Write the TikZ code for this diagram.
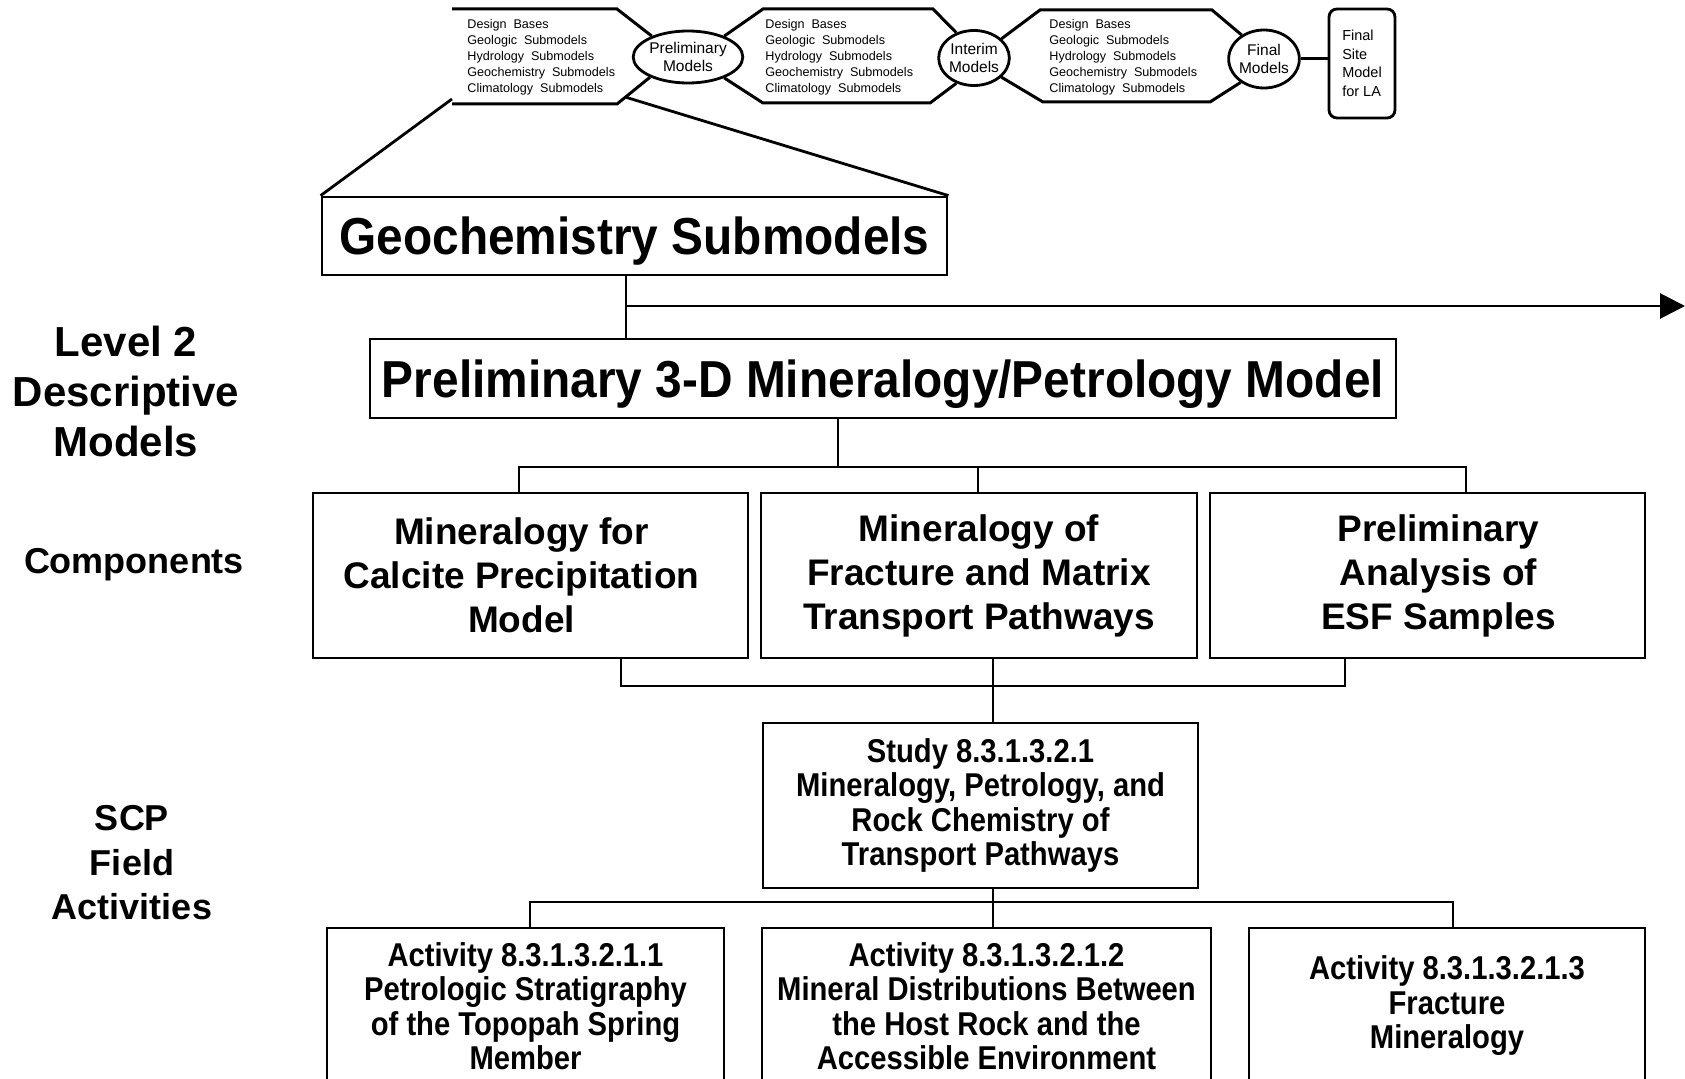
\documentclass[tikz,border=0pt]{standalone}
\usepackage{fontspec}
\setmainfont{Liberation Sans}
\newfontfamily\narrowsf[FakeStretch=0.885]{Liberation Sans}
\newfontfamily\tallsf[FakeStretch=0.92]{Liberation Sans}
\usetikzlibrary{arrows.meta,positioning,shapes.geometric}

\newcommand\bigbold{\tallsf\fontsize{52}{60}\selectfont\bfseries}
\newcommand\midbold{\fontsize{37}{44}\selectfont\bfseries}
\newcommand\narrowbold{\narrowsf\fontsize{33}{34.5}\selectfont\bfseries}
\newcommand\lvlbold{\fontsize{42}{50}\selectfont\bfseries}
\newcommand\sidebold{\fontsize{36}{44.5}\selectfont\bfseries}

\begin{document}
\begin{tikzpicture}[x=1pt,y=-1pt,line width=2.8pt,
    box/.style={draw,inner sep=0pt,align=center},
    oval/.style={draw,ellipse,inner sep=0pt,align=center,font=\fontsize{15.5}{18.5}\selectfont},
    hextext/.style={anchor=west,align=left,inner sep=0pt,font={\fontsize{12.6}{16}\selectfont\spaceskip=0.55em\relax}},
    sitebox/.style={draw,rounded corners=8pt,inner sep=0pt,align=left,font=\fontsize{14.5}{18.5}\selectfont},
    side/.style={align=center,inner sep=0pt}]
\useasboundingbox (0,0) rectangle (1685,1078);
\clip (0,0) rectangle (1685,1078);

\node[oval,minimum width=100pt,minimum height=52pt] (prem) at (688,57) {Preliminary\\Models};
\node[oval,minimum width=61pt,minimum height=55pt] (interim) at (974,58) {Interim\\Models};
\node[oval,minimum width=62pt,minimum height=58pt] (final) at (1264,59) {Final\\Models};
\node[sitebox,minimum width=66pt,minimum height=109pt] (site) at (1362,63.5) {Final\\Site\\Model\\for LA};
\foreach \x/\n in {466/a,764/b,1048/c}
  \node[hextext] (hex\n) at (\x,57) {Design Bases\\Geologic Submodels\\Hydrology Submodels\\Geochemistry Submodels\\Climatology Submodels};
\begin{scope}[line width=3pt]
\draw (452,9) -- (617,9) -- (prem.150);
\draw (452,104) -- (617,104) -- (prem.208);
\draw (prem.30) -- (763,9) -- (933,9) -- (interim.125);
\draw (prem.-30) -- (763,103) -- (930,103) -- (interim.235);
\draw (interim.35) -- (1040,10) -- (1212,10) -- (final.133);
\draw (interim.-35) -- (1043,102) -- (1210,102) -- (final.225);
\draw (final.east) -- (final.east -| site.west);
\end{scope}

\node[box,font=\bigbold,text depth=0pt,minimum width=625pt,minimum height=78pt] (geo) at (634.5,236) {Geochemistry Submodels};
\node[box,font=\bigbold,text depth=0pt,minimum width=1026pt,minimum height=79pt] (prelim3d) at (883,378.5) {Preliminary 3-D Mineralogy/Petrology Model};
\node[box,minimum width=435pt,minimum height=165pt,
  label={[side,font=\midbold,xshift=-9pt]center:Mineralogy for\\Calcite Precipitation\\Model}] (comp1) at (530.5,575.5) {};
\node[box,font=\midbold,minimum width=436pt,minimum height=165pt] (comp2) at (979,575.5) {Mineralogy of\\Fracture and Matrix\\Transport Pathways};
\node[box,minimum width=435pt,minimum height=165pt,
  label={[side,font=\midbold,xshift=11pt]center:Preliminary\\Analysis of\\ESF Samples}] (comp3) at (1427.5,575.5) {};
\node[box,font=\narrowbold,minimum width=435pt,minimum height=165pt] (study) at (980.5,805.5) {Study 8.3.1.3.2.1\\Mineralogy, Petrology, and\\Rock Chemistry of\\Transport Pathways};
\node[box,font=\narrowbold,minimum width=397pt,minimum height=156pt] (act1) at (525.5,1006) {Activity 8.3.1.3.2.1.1\\Petrologic Stratigraphy\\of the Topopah Spring\\Member};
\node[box,font=\narrowbold,minimum width=449pt,minimum height=156pt] (act2) at (986.5,1006) {Activity 8.3.1.3.2.1.2\\Mineral Distributions Between\\the Host Rock and the\\Accessible Environment};
\node[box,font=\narrowbold,minimum width=396pt,minimum height=156pt] (act3) at (1447,1006) {Activity 8.3.1.3.2.1.3\\Fracture\\Mineralogy};

\node[side,font=\lvlbold] (level) at (126,391) {Level 2\\Descriptive\\Models};
\node[side,font=\sidebold] (compo) at (134,565) {Components};
\node[side,font=\sidebold] (scp) at (132,863) {SCP\\Field\\Activities};

\coordinate (zl) at (452,99);
\coordinate (zr) at (625,97);
\draw (zl) -- (geo.north west);
\draw (zr) -- (geo.north east);

\coordinate (g1) at (626,306);
\coordinate (out) at (1685,306);
\draw (g1 |- geo.south) -- (g1 |- prelim3d.north);
\draw[-{Triangle[length=25pt,width=25pt]}] (g1) -- (out);

\coordinate (p1) at (838,467);
\coordinate (b1) at (519,467);
\coordinate (b2) at (978,467);
\coordinate (b3) at (1466,467);
\draw (p1 |- prelim3d.south) -- (p1);
\draw (b1 |- comp1.north) -- (b1) -- (b3) -- (b3 |- comp3.north);
\draw (b2) -- (b2 |- comp2.north);

\coordinate (d1) at (621,686);
\coordinate (d3) at (1345,686);
\coordinate (m) at (993,686);
\draw (d1 |- comp1.south) -- (d1) -- (d3) -- (d3 |- comp3.south);
\draw (m |- comp2.south) -- (m |- study.north);

\coordinate (e1) at (530,902);
\coordinate (e2) at (993,902);
\coordinate (e3) at (1453,902);
\draw (e2 |- study.south) -- (e2 |- act2.north);
\draw (e1 |- act1.north) -- (e1) -- (e3) -- (e3 |- act3.north);
\end{tikzpicture}
\end{document}
